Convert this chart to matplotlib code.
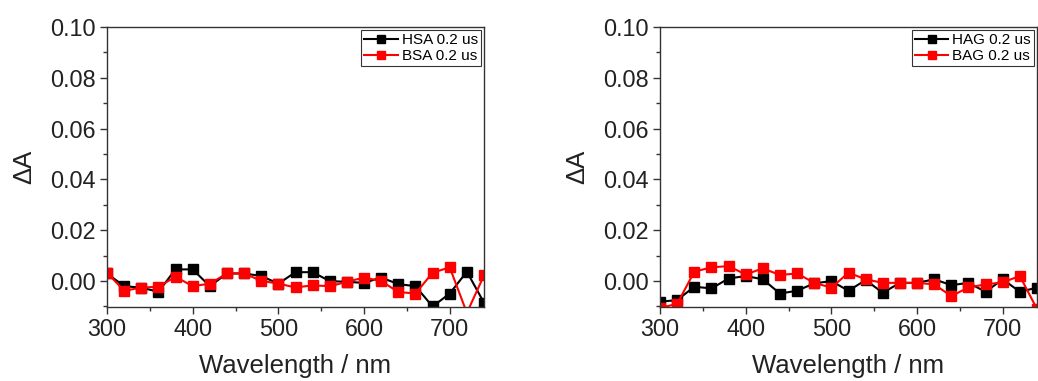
import matplotlib
matplotlib.use("Agg")
import matplotlib.pyplot as plt
from matplotlib.ticker import MultipleLocator

plt.rcParams['font.family'] = ['Liberation Sans', 'DejaVu Sans']

wavelength = [300, 320, 340, 360, 380, 400, 420, 440, 460, 480, 500, 520,
              540, 560, 580, 600, 620, 640, 660, 680, 700, 720, 740]

hsa = [0.003, -0.002, -0.0026, -0.0042, 0.0046, 0.0046, -0.002, 0.003, 0.003, 0.002,
       -0.001, 0.0035, 0.0035, 0.0, -0.0003, -0.0007, 0.0014, -0.0012, -0.002, -0.0100,
       -0.0049, 0.0037, -0.0085]
bsa = [0.0033, -0.0038, -0.0026, -0.0022, 0.0017, -0.002, -0.001, 0.003, 0.003, 0.0001,
       -0.001, -0.0025, -0.0017, -0.002, -0.0003, 0.0014, 0.0, -0.0043, -0.0049, 0.0033,
       0.0054, -0.0125, 0.0022]

hag = [-0.0081, -0.0075, -0.0022, -0.0029, 0.001, 0.002, 0.0007, -0.0049, -0.0038, -0.0009,
       0.0, -0.0038, 0.0004, -0.0046, -0.0007, -0.0007, 0.0007, -0.0016, -0.0007, -0.0042,
       0.0007, -0.0042, -0.0026]
bag = [-0.0105, -0.009, 0.0037, 0.0054, 0.0059, 0.0026, 0.005, 0.0024, 0.003, -0.0007,
       -0.0026, 0.0033, 0.0007, -0.0007, -0.0007, -0.0007, -0.0013, -0.0059, -0.0025, -0.0013,
       -0.0005, 0.002, -0.011]

labels_left = ["HSA 0.2 us", "BSA 0.2 us"]
labels_right = ["HAG 0.2 us", "BAG 0.2 us"]

yticks = [0.00, 0.02, 0.04, 0.06, 0.08, 0.10]
xticks = [300, 400, 500, 600, 700]

fig = plt.figure(figsize=(10.38, 3.81), dpi=100)
ax1 = fig.add_axes([107/1038, 1-307/381, 377/1038, 280/381])
ax2 = fig.add_axes([660/1038, 1-307/381, 377/1038, 280/381])

spine_col = '#333333'
text_col = '#222222'
for ax, s1, s2, labs in [(ax1, hsa, bsa, labels_left), (ax2, hag, bag, labels_right)]:
    ax.plot(wavelength, s1, color='black', marker='s', markersize=6.5, lw=1.5, label=labs[0])
    ax.plot(wavelength, s2, color='red', marker='s', markersize=6.5, lw=1.5, label=labs[1])
    ax.set_xlim(300, 740)
    ax.set_ylim(-0.0102, 0.10)
    ax.set_xticks(xticks)
    ax.set_yticks(yticks)
    ax.set_yticklabels([f"{v:.2f}" for v in yticks])
    ax.xaxis.set_minor_locator(MultipleLocator(50))
    ax.yaxis.set_minor_locator(MultipleLocator(0.01))
    ax.tick_params(which='major', direction='out', length=5, width=1, labelsize=16.8,
                   color=spine_col, labelcolor=text_col, pad=3)
    ax.tick_params(which='minor', direction='out', length=3, width=1, color=spine_col)
    for sp in ax.spines.values():
        sp.set_color(spine_col)
        sp.set_linewidth(1)
    ax.set_xlabel("Wavelength / nm", fontsize=18.5, labelpad=9, color=text_col)
    ax.set_ylabel("ΔA", fontsize=18.5, labelpad=10, color=text_col)
    leg = ax.legend(loc='upper right', fontsize=11, frameon=True, fancybox=False,
                    edgecolor='black', handlelength=2.2, borderpad=0.2, labelspacing=0.15,
                    handletextpad=0.25, borderaxespad=0.2, markerscale=0.85)
    leg.get_frame().set_linewidth(0.8)

fig.savefig("out.png", dpi=100)
